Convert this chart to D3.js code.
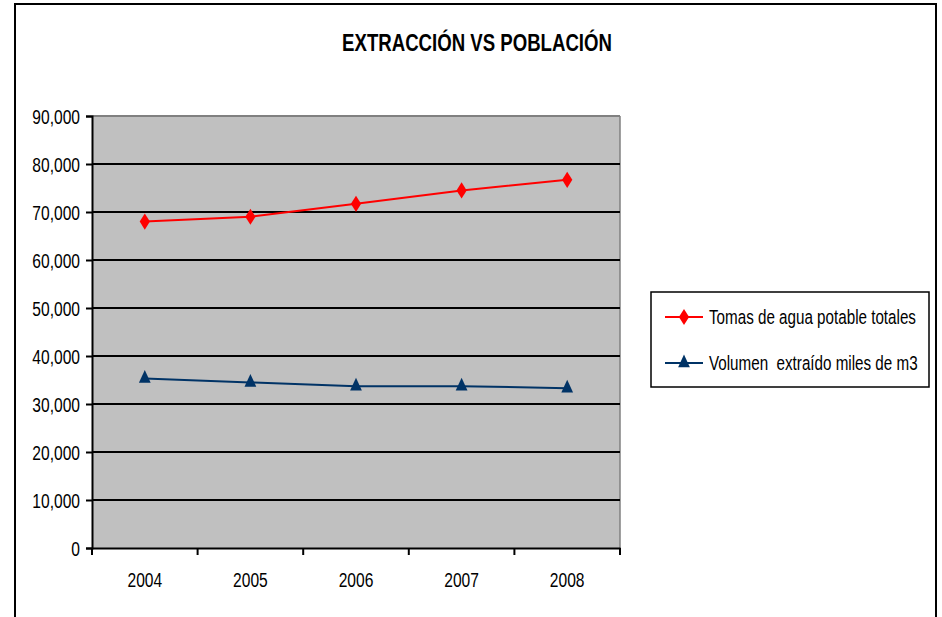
<!DOCTYPE html>
<html>
<head>
<meta charset="utf-8">
<script src="https://cdn.jsdelivr.net/npm/d3@7"></script>
<style>
  html, body { margin: 0; padding: 0; background: #fff; }
  svg text { font-family: "Liberation Sans", Arial, sans-serif; fill: #000; }
</style>
</head>
<body>
<svg id="chart" width="942" height="617"></svg>
<script>
const years = ["2004", "2005", "2006", "2007", "2008"];
const tomas = [68000, 69000, 71700, 74500, 76700];
const volumen = [35300, 34500, 33700, 33700, 33300];
const yTicks = [0, 10000, 20000, 30000, 40000, 50000, 60000, 70000, 80000, 90000];
const titleText = "EXTRACCIÓN VS POBLACIÓN";
const seriesNames = ["Tomas de agua potable totales", "Volumen  extraído miles de m3"];

const svg = d3.select("#chart");
const plot = { left: 92, right: 620, top: 116, bottom: 548 };

// condensed text: place a group at (x,y) scaled horizontally (reference uses a narrow face)
function narrowText(parent, x0, y0, k, txt, size, anchor, weight) {
  const g = parent.append("g").attr("transform", `translate(${x0},${y0}) scale(${k},1)`);
  return g.append("text").attr("x", 0).attr("y", 0)
    .attr("text-anchor", anchor || "start")
    .style("font-size", size).style("font-weight", weight || "normal")
    .attr("xml:space", "preserve").style("white-space", "pre").text(txt);
}

// outer border
svg.append("rect").attr("x", 15).attr("y", 4).attr("width", 921).attr("height", 630)
  .attr("fill", "#fff").attr("stroke", "#000").attr("stroke-width", 2);

// title
narrowText(svg, 477, 51, 0.76, titleText, "24.5px", "middle", "bold");

const x = d3.scaleBand().domain(years).range([plot.left, plot.right]).padding(0);
const y = d3.scaleLinear().domain([0, 90000]).range([plot.bottom, plot.top]);

// plot area background
svg.append("rect").attr("x", plot.left).attr("y", plot.top)
  .attr("width", plot.right - plot.left).attr("height", plot.bottom - plot.top)
  .attr("fill", "#c0c0c0");
svg.append("line").attr("x1", plot.right).attr("x2", plot.right)
  .attr("y1", plot.top).attr("y2", plot.bottom).attr("stroke", "#808080").attr("stroke-width", 1.5);

// gridlines
svg.append("g").selectAll("line").data(yTicks.filter(d => d > 0)).join("line")
  .attr("x1", plot.left).attr("x2", plot.right)
  .attr("y1", d => y(d)).attr("y2", d => y(d))
  .attr("stroke", d => d === 90000 ? "#808080" : "#000").attr("stroke-width", 2);

// y axis
const kY = 0.8;
const yAxis = svg.append("g").attr("transform", `translate(${plot.left},0)`)
  .call(d3.axisLeft(y).tickValues(yTicks).tickFormat(d3.format(",")).tickSize(6).tickPadding(6));
yAxis.select(".domain").attr("stroke", "#000").attr("stroke-width", 2);
yAxis.selectAll(".tick line").attr("stroke", "#000").attr("stroke-width", 2);
yAxis.selectAll(".tick text").style("font-size", "19.5px").attr("fill", "#000")
  .attr("dy", "0.36em").attr("x", -12 / kY).attr("transform", `scale(${kY},1)`);

// x axis
const kX = 0.8;
const xAxis = svg.append("g").attr("transform", `translate(0,${plot.bottom})`)
  .call(d3.axisBottom(x).tickSize(0).tickPadding(25));
xAxis.select(".domain").attr("stroke", "#000").attr("stroke-width", 2);
xAxis.selectAll(".tick text").style("font-size", "19.5px").attr("fill", "#000")
  .attr("transform", `scale(${kX},1)`);
const bounds = years.map(d => x(d)).concat([x(years[years.length - 1]) + x.bandwidth()]);
xAxis.selectAll(".bound").data(bounds).join("line").attr("class", "bound")
  .attr("x1", d => d).attr("x2", d => d).attr("y1", 0).attr("y2", 7)
  .attr("stroke", "#000").attr("stroke-width", 2);

const cx = d => x(d) + x.bandwidth() / 2;
const line = d3.line().x((d, i) => cx(years[i])).y(d => y(d));

const red = "#ff0000", blue = "#003366";
const diamond = d3.symbol().type(d3.symbolDiamond).size(75);
const triangle = d3.symbol().type(d3.symbolTriangle).size(60);

svg.append("path").datum(tomas).attr("d", line).attr("fill", "none").attr("stroke", red).attr("stroke-width", 2);
svg.append("path").datum(volumen).attr("d", line).attr("fill", "none").attr("stroke", blue).attr("stroke-width", 2);

svg.append("g").selectAll("path").data(tomas).join("path")
  .attr("d", diamond).attr("fill", red)
  .attr("transform", (d, i) => `translate(${cx(years[i])},${y(d)}) scale(1.1,1)`);
svg.append("g").selectAll("path").data(volumen).join("path")
  .attr("d", triangle).attr("fill", blue)
  .attr("transform", (d, i) => `translate(${cx(years[i])},${y(d)}) scale(1,1.25)`);

// legend
const lg = svg.append("g");
lg.append("rect").attr("x", 651).attr("y", 292).attr("width", 278).attr("height", 95)
  .attr("fill", "#fff").attr("stroke", "#000").attr("stroke-width", 1.5);
const items = [
  { name: seriesNames[0], color: red, sym: diamond, t: "scale(1.1,1)", yy: 317 },
  { name: seriesNames[1], color: blue, sym: triangle, t: "scale(1,1.25)", yy: 363 }
];
items.forEach(it => {
  lg.append("line").attr("x1", 665).attr("x2", 703).attr("y1", it.yy).attr("y2", it.yy)
    .attr("stroke", it.color).attr("stroke-width", 2);
  lg.append("path").attr("d", it.sym).attr("fill", it.color)
    .attr("transform", `translate(684,${it.yy}) ${it.t}`);
  narrowText(lg, 709, it.yy + 7, 0.78, it.name, "19.5px", "start", "normal");
});
</script>
</body>
</html>
